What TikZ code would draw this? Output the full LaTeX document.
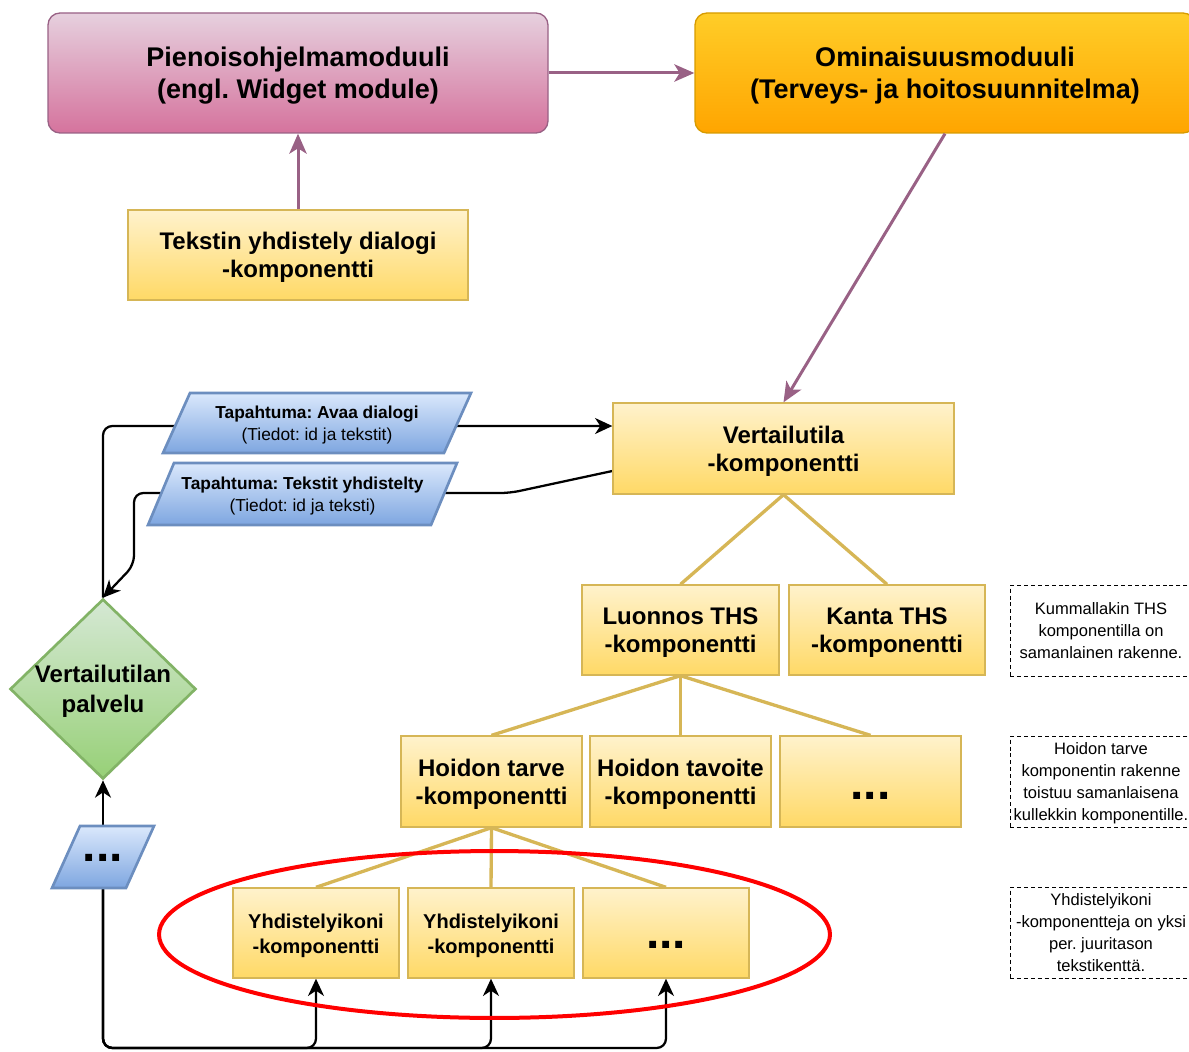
\documentclass[tikz,border=0pt]{standalone}
\usepackage{fontspec}
\setmainfont{Liberation Sans}
\usetikzlibrary{shapes.geometric,arrows.meta,backgrounds,calc}
\frenchspacing
\definecolor{pkT}{HTML}{E6D0DE}
\definecolor{pkB}{HTML}{D5739D}
\definecolor{pkD}{HTML}{996185}
\definecolor{orT}{HTML}{FFCD28}
\definecolor{orB}{HTML}{FFA500}
\definecolor{orD}{HTML}{D79B00}
\definecolor{yeT}{HTML}{FFF2CC}
\definecolor{yeB}{HTML}{FFD966}
\definecolor{yeD}{HTML}{D6B656}
\definecolor{blT}{HTML}{DAE8FC}
\definecolor{blB}{HTML}{7EA6E0}
\definecolor{blD}{HTML}{6C8EBF}
\definecolor{grT}{HTML}{D5E8D4}
\definecolor{grB}{HTML}{97D077}
\definecolor{grD}{HTML}{82B366}
\newcommand\fTop{\fontsize{20.25pt}{24pt}\selectfont\bfseries}
\newcommand\fMid{\fontsize{18pt}{21pt}\selectfont\bfseries}
\newcommand\fDia{\fontsize{18pt}{22.5pt}\selectfont\bfseries}
\newcommand\fSml{\fontsize{15pt}{18.75pt}\selectfont\bfseries}
\newcommand\fEv{\fontsize{13pt}{16.5pt}\selectfont}
\newcommand\fNote{\fontsize{12.4pt}{16.5pt}\selectfont}
\newcommand\fDots{\fontsize{36pt}{36pt}\selectfont\bfseries}
\newcommand\tl[2][-2.5pt]{\raisebox{#1}[\height][\depth]{\begin{tabular}{@{}c@{}}#2\end{tabular}}}
\newcommand\mydots[1]{\raisebox{#1}[\height][\depth]{...}}
\begin{document}
\begin{tikzpicture}[x=0.75pt,y=-0.75pt,
  every node/.style={inner sep=0pt, align=center, text=black},
  pinkbox/.style={draw=pkD, line width=1pt, rounded corners=9pt, top color=pkT, bottom color=pkB, minimum width=375pt, minimum height=90pt, font=\fTop},
  orbox/.style={draw=orD, line width=1pt, rounded corners=9pt, top color=orT, bottom color=orB, minimum width=375pt, minimum height=90pt, font=\fTop},
  ybox/.style={draw=yeD, line width=1pt, top color=yeT, bottom color=yeB, font=\fMid},
  ysmall/.style={ybox, minimum width=124.5pt, minimum height=67.5pt, font=\fSml},
  ymid/.style={ybox, minimum width=135.75pt, minimum height=68.25pt},
  evshape/.style={draw=blD, line width=2pt, top color=blT, bottom color=blB, line join=miter},
  evtext/.style={font=\fEv},
  note/.style={draw=black, line width=0.6pt, dash pattern=on 3pt off 2.2pt, minimum width=136.5pt, minimum height=68pt, font=\fNote},
  conn/.style={draw=black, line width=1.7pt, rounded corners=7pt, -{Stealth[length=13pt,width=12pt,inset=4pt]}},
  parr/.style={draw=pkD, line width=2.25pt, -{Stealth[length=15pt,width=13pt,inset=4pt]}},
  tree/.style={draw=yeD, line width=2.5pt}
]
\useasboundingbox (0,0) rectangle (1189,1052);
\clip (0,0) rectangle (1189,1052);

% top modules
\node[pinkbox] (pien) at (298,73) {\tl{Pienoisohjelmamoduuli\\(engl. Widget module)}};
\node[orbox] (omin) at (945,73) {\tl{Ominaisuusmoduuli\\(Terveys- ja hoitosuunnitelma)}};
\node[ybox, minimum width=255pt, minimum height=67.5pt] (tek) at (298,255) {\tl{Tekstin yhdistely dialogi\\-komponentti}};

% component tree
\node[ybox, minimum width=255.75pt, minimum height=68.25pt] (vt) at (783.5,448.5) {\tl{Vertailutila\\-komponentti}};
\node[ybox, minimum width=147.75pt, minimum height=67.5pt] (lu) at (680.5,630) {\tl{Luonnos THS\\-komponentti}};
\node[ybox, minimum width=147pt, minimum height=67.5pt] (ka) at (887,630) {\tl{Kanta THS\\-komponentti}};
\node[ymid] (ht) at (491.5,781.5) {\tl{Hoidon tarve\\-komponentti}};
\node[ymid] (hv) at (680.5,781.5) {\tl{Hoidon tavoite\\-komponentti}};
\node[ymid, font=\fDots] (hd) at (870.5,781.5) {\mydots{-10.5pt}};
\node[ysmall] (y1) at (316,933) {\tl{Yhdistelyikoni\\-komponentti}};
\node[ysmall] (y2) at (491,933) {\tl{Yhdistelyikoni\\-komponentti}};
\node[ysmall, font=\fDots] (y3) at (666,933) {\mydots{-9pt}};

% service
\node[diamond, draw=grD, line width=2pt, top color=grT, bottom color=grB, minimum width=139.5pt, minimum height=135pt, inner sep=0pt] (svc) at (103,689) {};
\node[font=\fDia] (svct) at (svc) {\tl[-1.5pt]{Vertailutilan\\palvelu}};

% events
\path[evshape] (163,453) -- (190,393) -- (471,393) -- (444,453) -- cycle;
\node[evtext] (ev1) at (317,423) {\tl[-1.5pt]{\textbf{Tapahtuma: Avaa dialogi}\\(Tiedot: id ja tekstit)}};
\path[evshape] (148,525) -- (174,463) -- (457,463) -- (431,525) -- cycle;
\node[evtext] (ev2) at (302.5,494.5) {\tl[-1.5pt]{\textbf{Tapahtuma: Tekstit yhdistelty}\\(Tiedot: id ja teksti)}};
\path[evshape] (52,888) -- (80,826) -- (154,826) -- (126,888) -- cycle;
\node[minimum width=50pt, minimum height=46.5pt, font=\fDots] (ev3) at (103,857) {\mydots{-0.75pt}};

% notes
\node[note] (n1) at (1101,631) {\tl[-1pt]{Kummallakin THS\\komponentilla on\\samanlainen rakenne.}};
\node[note] (n2) at (1101,782) {\tl[-1pt]{Hoidon tarve\\komponentin rakenne\\toistuu samanlaisena\\kullekkin komponentille.}};
\node[note] (n3) at (1101,933) {\tl[-1pt]{Yhdistelyikoni\\-komponentteja on yksi\\per. juuritason\\tekstikenttä.}};

% module arrows
\draw[parr] (pien.east) -- (omin.west);
\draw[parr] (tek.north) -- (pien.south);
\draw[parr] (omin.south) -- (vt.north);

% tree lines
\draw[tree] (vt.south) -- (lu.north);
\draw[tree] (vt.south) -- (ka.north);
\draw[tree] (lu.south) -- (ht.north);
\draw[tree] (lu.south) -- (hv.north);
\draw[tree] (lu.south) -- (hd.north);
\draw[tree] (ht.south) -- (y1.north);
\draw[tree] (ht.south) -- (y2.north);
\draw[tree] (ht.south) -- (y3.north);

% event connectors
\coordinate (c1) at (0,426);
\coordinate (c2) at (0,471);
\coordinate (bus) at (0,1048);
\begin{scope}[on background layer]
\draw[conn] (svc.north) -- (svc.north |- c1) -- (vt.west |- c1);
\draw[conn] (vt.west |- c2) -- (510,493) -- (134,493) -- (134,565) -- (svc.north);
\draw[conn] (ev3.north) -- (svc.south);
\draw[conn] (ev3.south) -- (ev3.south |- bus) -- (y1.south |- bus) -- (y1.south);
\draw[conn] (ev3.south) -- (ev3.south |- bus) -- (y2.south |- bus) -- (y2.south);
\draw[conn] (ev3.south) -- (ev3.south |- bus) -- (y3.south |- bus) -- (y3.south);
\end{scope}

% highlight
\draw[red, line width=3pt] (494.5,934.5) ellipse [x radius=251.6pt, y radius=62.6pt];
\end{tikzpicture}
\end{document}
